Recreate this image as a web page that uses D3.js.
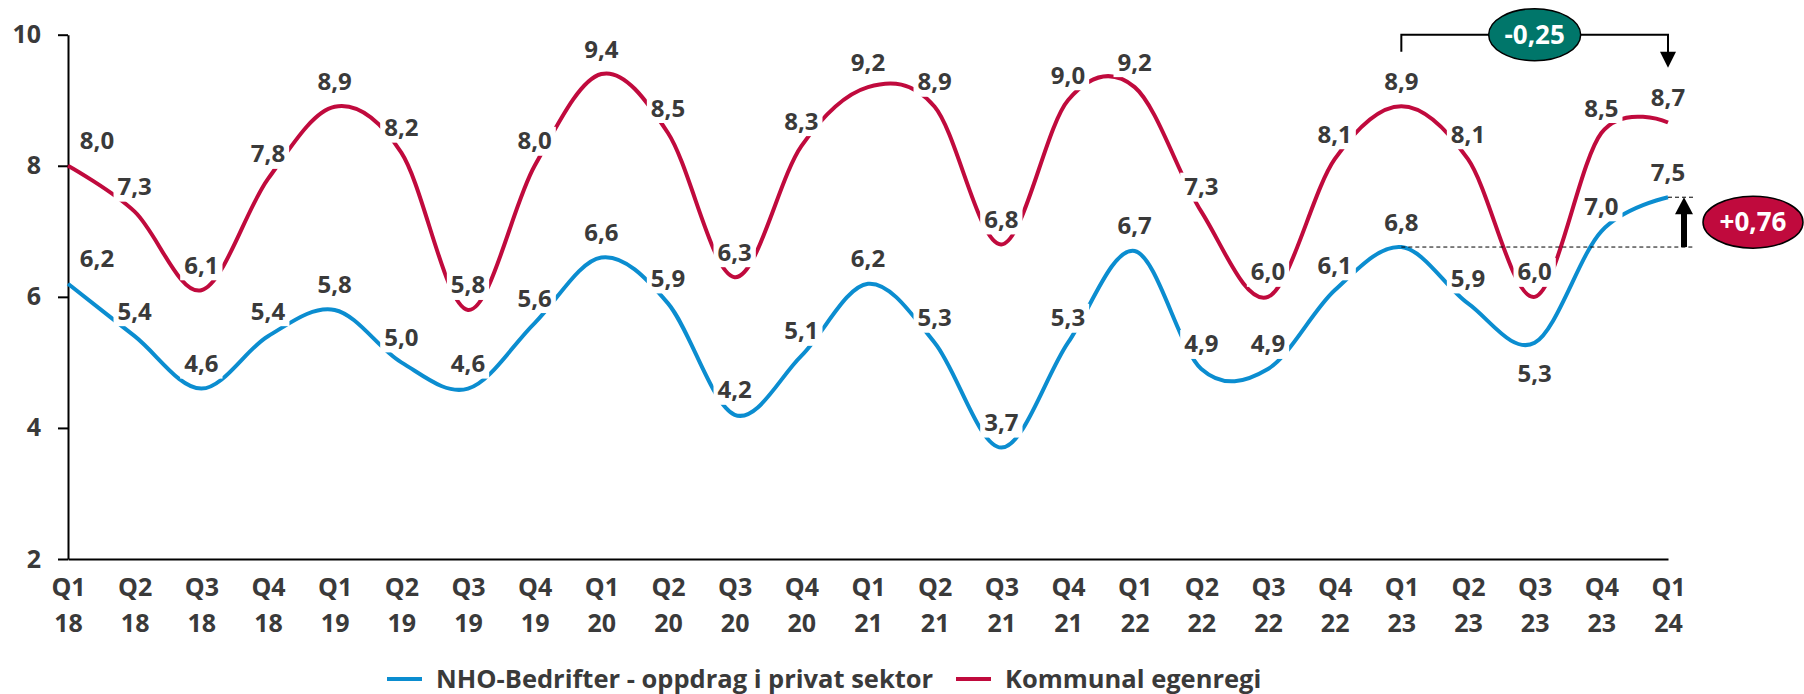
<!DOCTYPE html>
<html>
<head>
<meta charset="utf-8">
<script src="https://cdn.jsdelivr.net/npm/d3@7"></script>
<style>
  body { margin: 0; background: #fff; }
  text { font-family: "Open Sans", sans-serif; font-weight: 700; }
</style>
</head>
<body>
<svg id="chart" width="1804" height="694"></svg>
<script>
// quarters Q1 2018 .. Q1 2024
const quarters = ['Q1','Q2','Q3','Q4','Q1','Q2','Q3','Q4','Q1','Q2','Q3','Q4','Q1','Q2','Q3','Q4','Q1','Q2','Q3','Q4','Q1','Q2','Q3','Q4','Q1'];
const years    = ['18','18','18','18','19','19','19','19','20','20','20','20','21','21','21','21','22','22','22','22','23','23','23','23','24'];

const nho      = [6.2,5.4,4.6,5.4,5.8,5.0,4.6,5.6,6.6,5.9,4.2,5.1,6.2,5.3,3.7,5.3,6.7,4.9,4.9,6.1,6.76,5.9,5.3,7.0,7.52];
const kommunal = [8.0,7.3,6.1,7.8,8.9,8.2,5.8,8.0,9.4,8.5,6.3,8.3,9.2,8.9,6.8,9.0,9.2,7.3,6.0,8.1,8.91,8.1,6.0,8.5,8.66];

const seriesNames = ['NHO-Bedrifter - oppdrag i privat sektor', 'Kommunal egenregi'];
const yTicks = [2, 4, 6, 8, 10];

const blue = '#0b8dd0', red = '#c00a3d', teal = '#00766a', ink = '#3a3a3a';
const fmt = (v, p) => d3.format('.' + p + 'f')(v).replace('.', ',').replace('\u2212', '-');

const svg = d3.select('#chart');
const idx = d3.range(quarters.length);

const x = d3.scalePoint().domain(idx).range([68, 1668]);
const y = d3.scaleLinear().domain([2, 10]).range([559, 34.7]);

// y axis
const yAxis = svg.append('g')
  .attr('transform', 'translate(68,0)')
  .call(d3.axisLeft(y).tickValues(yTicks).tickSize(10).tickSizeOuter(0).tickPadding(17));
yAxis.select('.domain').attr('stroke', '#000').attr('stroke-width', 2);
yAxis.selectAll('.tick line').attr('stroke', '#000').attr('stroke-width', 2);
yAxis.selectAll('.tick text').attr('fill', ink).style('font-size', '25px')
  .style('font-family', '"Open Sans", sans-serif').style('font-weight', 700);

// x axis
const xAxis = svg.append('g')
  .attr('transform', 'translate(0,' + y(2) + ')')
  .call(d3.axisBottom(x).tickSize(0).tickSizeOuter(0).tickFormat(''));
xAxis.select('.domain').attr('stroke', '#000').attr('stroke-width', 2);
xAxis.selectAll('.tick text').remove();
xAxis.selectAll('.tick').each(function(d) {
  const t = d3.select(this).append('text')
    .attr('fill', ink).attr('text-anchor', 'middle')
    .style('font-size', '25px');
  t.append('tspan').attr('x', 0).attr('y', 37).text(quarters[d]);
  t.append('tspan').attr('x', 0).attr('y', 73).text(years[d]);
});

// lines
const line = d3.line()
  .x((d, i) => x(i))
  .y(d => y(d))
  .curve(d3.curveCatmullRom.alpha(0));

svg.append('path').datum(nho)
  .attr('fill', 'none').attr('stroke', blue).attr('stroke-width', 4).attr('d', line);
svg.append('path').datum(kommunal)
  .attr('fill', 'none').attr('stroke', red).attr('stroke-width', 4).attr('d', line);

// data labels (white box behind, like Excel)
function addLabels(data, below) {
  data.forEach((v, i) => {
    let lx = x(i), ly = y(v) - 25;
    if (i === 0) lx += 29;
    if (below && below.includes(i)) ly = y(v) + 31;
    const g = svg.append('g').attr('transform', 'translate(' + lx + ',' + ly + ')');
    const r = g.append('rect').attr('fill', '#fff');
    const t = g.append('text')
      .attr('text-anchor', 'middle').attr('y', 8.5)
      .attr('fill', ink).style('font-size', '24px')
      .text(fmt(v, 1));
    const b = t.node().getBBox();
    r.attr('x', b.x - 4).attr('y', -14).attr('width', b.width + 8).attr('height', 29);
  });
}
addLabels(nho, [22]);
addLabels(kommunal);

// -0,25 bracket annotation (Q1 23 -> Q1 24, kommunal)
const xa = x(20), xb = x(24), yTop = y(10);
svg.append('path')
  .attr('d', 'M' + xa + ',' + (yTop + 17) + 'V' + yTop + 'H' + xb + 'V' + (yTop + 18))
  .attr('fill', 'none').attr('stroke', '#000').attr('stroke-width', 2);
svg.append('path')
  .attr('d', 'M' + (xb - 8) + ',' + (yTop + 17) + 'L' + (xb + 8) + ',' + (yTop + 17) + 'L' + xb + ',' + (yTop + 33) + 'Z')
  .attr('fill', '#000');
const ex1 = (xa + xb) / 2;
svg.append('ellipse').attr('cx', ex1).attr('cy', yTop).attr('rx', 46).attr('ry', 26)
  .attr('fill', teal).attr('stroke', '#000').attr('stroke-width', 1.5);
svg.append('text').attr('x', ex1).attr('y', yTop + 9).attr('text-anchor', 'middle')
  .attr('fill', '#fff').style('font-size', '26px')
  .text(fmt(kommunal[24] - kommunal[20], 2));

// +0,76 annotation (Q1 23 -> Q1 24, NHO)
const y0 = y(nho[20]), y1 = y(nho[24]), xr = 1694, xArrow = 1684;
svg.append('line').attr('x1', x(20)).attr('x2', xr).attr('y1', y0).attr('y2', y0)
  .attr('stroke', '#000').attr('stroke-width', 1).attr('stroke-dasharray', '4,3');
svg.append('line').attr('x1', x(24)).attr('x2', xr).attr('y1', y1).attr('y2', y1)
  .attr('stroke', '#000').attr('stroke-width', 1).attr('stroke-dasharray', '4,3');
svg.append('line').attr('x1', xArrow).attr('x2', xArrow).attr('y1', y0).attr('y2', y1 + 15)
  .attr('stroke', '#000').attr('stroke-width', 6);
svg.append('path')
  .attr('d', 'M' + (xArrow - 9) + ',' + (y1 + 17) + 'L' + (xArrow + 9) + ',' + (y1 + 17) + 'L' + xArrow + ',' + y1 + 'Z')
  .attr('fill', '#000');
const ey2 = (y0 + y1) / 2;
svg.append('ellipse').attr('cx', 1753).attr('cy', ey2).attr('rx', 50).attr('ry', 26)
  .attr('fill', red).attr('stroke', '#000').attr('stroke-width', 1.5);
svg.append('text').attr('x', 1753).attr('y', ey2 + 9).attr('text-anchor', 'middle')
  .attr('fill', '#fff').style('font-size', '26px')
  .text('+' + fmt(nho[24] - nho[20], 2));

// legend
const legend = svg.append('g').attr('transform', 'translate(387,679)');
const legendItems = [
  { name: seriesNames[0], color: blue, x: 0 },
  { name: seriesNames[1], color: red, x: 569 }
];
legendItems.forEach(it => {
  legend.append('line').attr('x1', it.x).attr('x2', it.x + 35).attr('y1', 0).attr('y2', 0)
    .attr('stroke', it.color).attr('stroke-width', 4);
  legend.append('text').attr('x', it.x + 49).attr('y', 9)
    .attr('fill', ink).style('font-size', '25.5px').text(it.name);
});
</script>
</body>
</html>
